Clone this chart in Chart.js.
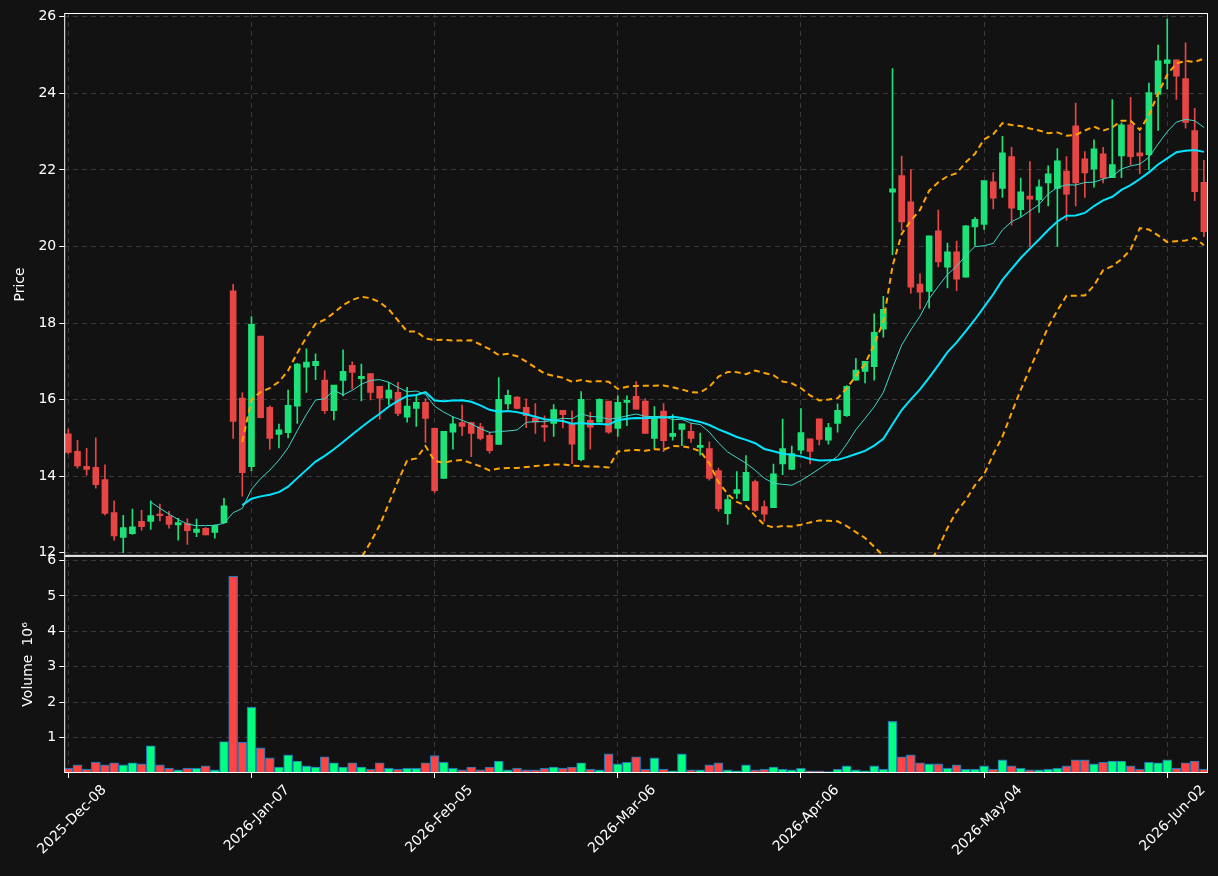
<!DOCTYPE html>
<html>
<head>
<meta charset="utf-8">
<script src="https://cdn.jsdelivr.net/npm/chart.js@4.4.1/dist/chart.umd.min.js"></script>
<style>
  body { margin: 0; background: #121212; }
  canvas { display: block; }
</style>
</head>
<body>
<canvas id="grafico" width="1218" height="876"></canvas>
<script>
// ----------- DADOS -----------
const openP = [15.10,14.64,14.25,14.22,13.90,13.04,12.40,12.50,12.81,12.82,13.00,12.94,12.73,12.75,12.53,12.63,12.53,12.79,18.83,16.03,
  14.25,17.65,15.79,15.09,15.14,15.83,16.85,16.89,16.50,15.71,16.50,16.89,16.55,16.67,16.34,16.04,16.18,15.54,15.77,15.92,
  15.24,13.94,15.15,15.39,15.39,15.28,15.06,14.83,15.89,16.06,15.79,15.51,15.32,15.38,15.71,15.36,14.43,15.45,15.41,15.95,
  15.25,15.93,16.08,15.95,14.99,15.69,15.04,15.22,15.16,14.75,14.71,14.14,13.02,13.55,13.36,13.85,13.20,13.18,14.32,14.18,
  14.68,14.97,15.49,14.94,15.38,15.58,16.51,16.74,16.86,17.84,21.42,21.84,21.16,19.01,18.83,20.40,19.46,19.85,19.20,20.51,
  20.58,21.68,21.52,22.34,20.96,21.31,21.22,21.66,21.52,21.96,23.14,22.28,22.02,22.41,21.80,22.37,23.17,22.44,22.40,23.97,
  24.78,24.87,24.38,23.02,21.67];
const highP = [15.23,14.94,14.73,15.00,14.30,13.36,12.98,13.14,13.11,13.36,13.27,13.08,12.90,12.89,12.88,12.66,12.73,13.42,19.01,16.18,
  18.17,17.65,15.84,15.36,16.25,16.95,17.33,17.20,16.76,16.37,17.30,16.99,16.93,16.67,16.34,16.45,16.45,16.32,16.10,16.02,
  15.24,15.16,15.55,15.86,15.41,15.38,15.15,16.58,16.25,16.08,16.02,15.90,15.58,15.87,15.71,15.71,16.21,15.67,16.02,15.95,
  16.10,16.10,16.47,16.02,15.82,15.90,15.61,15.36,15.38,15.13,14.90,14.21,13.50,14.12,14.54,13.90,13.36,14.32,15.49,14.79,
  15.77,14.97,15.49,15.38,15.89,16.37,17.08,16.99,18.24,18.70,24.65,22.36,22.01,19.29,20.27,20.95,20.09,20.14,20.55,20.76,
  21.71,21.93,22.88,22.59,21.79,22.22,21.74,22.11,22.56,22.35,23.75,22.48,22.79,22.59,23.84,23.23,23.90,22.96,24.27,25.26,
  25.95,24.87,25.32,23.61,22.25];
const lowP = [14.58,14.21,14.03,13.69,12.99,12.33,12.00,12.48,12.59,12.61,12.83,12.64,12.33,12.22,12.42,12.47,12.38,12.77,14.99,13.48,
  14.14,15.52,14.70,14.74,15.00,15.38,16.19,16.52,15.64,15.47,16.10,16.28,15.97,15.99,15.49,15.86,15.58,15.41,15.30,14.88,
  13.57,13.94,14.71,15.06,14.51,14.95,14.60,14.83,15.75,15.76,15.27,15.12,14.91,15.04,15.26,14.33,14.40,14.71,15.41,15.12,
  15.04,15.32,15.75,15.12,14.71,14.64,14.94,14.80,14.88,14.55,13.90,13.09,12.74,13.42,13.36,13.08,12.82,13.18,14.04,14.18,
  14.59,14.32,14.82,14.84,15.15,15.56,16.51,16.44,16.51,17.63,19.79,20.42,18.78,18.37,18.39,19.47,18.92,18.85,19.20,20.03,
  20.45,20.98,21.28,20.56,20.78,20.00,20.89,21.06,20.00,20.68,21.06,21.28,21.55,21.66,21.80,21.80,22.13,21.90,22.00,23.03,
  24.12,23.84,23.09,21.20,20.26];
const closeP = [14.62,14.27,14.18,13.78,13.03,12.44,12.65,12.67,12.68,12.96,12.97,12.74,12.78,12.58,12.61,12.47,12.71,13.22,15.43,14.09,
  17.96,15.53,14.99,15.20,15.84,16.92,16.97,16.99,15.71,16.37,16.73,16.71,16.60,16.19,16.04,16.24,15.64,15.82,15.92,15.51,
  13.62,15.16,15.36,15.30,15.12,14.99,14.67,16.00,16.10,15.77,15.58,15.41,15.28,15.73,15.61,14.84,16.00,15.28,16.00,15.15,
  15.92,15.97,15.75,15.12,15.55,14.93,15.11,15.36,14.99,14.80,13.94,13.15,13.38,13.64,14.09,13.11,13.01,14.05,14.71,14.58,
  15.13,14.65,14.96,15.26,15.71,16.34,16.76,16.99,17.75,18.35,21.50,20.64,18.94,18.81,20.27,19.60,19.85,19.15,20.53,20.70,
  21.71,21.26,22.44,21.00,21.42,21.24,21.55,21.89,22.23,21.37,21.66,21.92,22.54,21.79,22.13,23.17,22.35,22.37,24.01,24.84,
  24.87,24.45,23.24,21.43,20.39];
// volume em milhões
const volume = [0.14,0.23,0.11,0.31,0.23,0.29,0.23,0.29,0.26,0.77,0.23,0.14,0.09,0.14,0.14,0.20,0.09,0.89,5.56,0.87,
  1.86,0.71,0.43,0.17,0.51,0.34,0.20,0.17,0.46,0.29,0.17,0.29,0.17,0.11,0.29,0.14,0.11,0.14,0.14,0.29,
  0.49,0.31,0.14,0.09,0.17,0.09,0.17,0.34,0.09,0.14,0.09,0.09,0.14,0.17,0.14,0.17,0.29,0.11,0.09,0.54,
  0.26,0.31,0.46,0.11,0.43,0.11,0.06,0.54,0.09,0.09,0.23,0.29,0.09,0.06,0.23,0.09,0.11,0.17,0.11,0.09,
  0.14,0.06,0.06,0.04,0.11,0.20,0.09,0.06,0.20,0.11,1.46,0.46,0.51,0.29,0.26,0.26,0.14,0.23,0.11,0.11,
  0.20,0.11,0.37,0.20,0.14,0.09,0.09,0.11,0.14,0.20,0.37,0.37,0.26,0.31,0.34,0.34,0.20,0.11,0.31,0.29,
  0.37,0.14,0.29,0.34,0.11];
const feriados = ["2025-12-25","2026-01-01","2026-01-19","2026-02-16","2026-04-03","2026-05-25"];
const tickIdx = [0, 20, 40, 60, 80, 100, 120];

// ----------- DATAS (dias úteis) -----------
const meses = ["Jan","Feb","Mar","Apr","May","Jun","Jul","Aug","Sep","Oct","Nov","Dec"];
const datas = [];
let d = new Date(Date.UTC(2025, 11, 8));
while (datas.length < openP.length) {
  const iso = d.toISOString().slice(0, 10);
  const wd = d.getUTCDay();
  if (wd !== 0 && wd !== 6 && !feriados.includes(iso)) {
    datas.push(d.getUTCFullYear() + "-" + meses[d.getUTCMonth()] + "-" + String(d.getUTCDate()).padStart(2, "0"));
  }
  d = new Date(d.getTime() + 86400000);
}

// ----------- INDICADORES -----------
function media(n) {
  return closeP.map((_, i) => {
    if (i < n - 1) return null;
    let s = 0;
    for (let k = i - n + 1; k <= i; k++) s += closeP[k];
    return s / n;
  });
}
const sma10 = media(10);
const sma20 = media(20);
const desvio = closeP.map((_, i) => {
  if (i < 19) return null;
  let s = 0;
  for (let k = i - 19; k <= i; k++) s += (closeP[k] - sma20[i]) ** 2;
  return Math.sqrt(s / 20);
});
const bbUp = sma20.map((m, i) => m === null ? null : m + 2 * desvio[i]);
const bbLo = sma20.map((m, i) => m === null ? null : m - 2 * desvio[i]);

const up = closeP.map((c, i) => c >= openP[i]);
const corVela = up.map(u => u ? "#1de27a" : "#e84545");
const corVol = up.map(u => u ? "#00ff7f" : "#ff4444");
const pts = arr => arr.map((v, i) => ({ x: i, y: v }));

// ----------- GRÁFICO -----------
const moldura = {
  id: "moldura",
  afterDraw(chart) {
    const c = chart.ctx, a = chart.chartArea;
    c.save();
    c.strokeStyle = "#ffffff";
    c.lineWidth = 1;
    [chart.scales.y, chart.scales.yv].forEach(s => {
      c.strokeRect(a.left + 0.5, s.top + 0.5, a.right - a.left - 1, s.bottom - s.top - 1);
    });
    c.restore();
  }
};

const grade = { color: "#3a3a3a", tickColor: "#ffffff", tickLength: 5, offset: false };
const borda = { display: false, dash: [5, 4] };
const fonte = { family: "DejaVu Sans", size: 14 };

new Chart(document.getElementById("grafico"), {
  data: {
    datasets: [
      { type: "bar", yAxisID: "y", data: pts(lowP.map((l, i) => [l, highP[i]])), backgroundColor: corVela, barThickness: 1, grouped: false, order: 3 },
      { type: "bar", yAxisID: "y", data: pts(openP.map((o, i) => [Math.min(o, closeP[i]), Math.max(o, closeP[i]) + 0.01])), backgroundColor: corVela, barThickness: 6, grouped: false, order: 2 },
      { type: "line", yAxisID: "y", data: pts(sma10), borderColor: "#40d8c8", borderWidth: 1, pointRadius: 0, order: 1 },
      { type: "line", yAxisID: "y", data: pts(sma20), borderColor: "#00e5ff", borderWidth: 2, pointRadius: 0, order: 1 },
      { type: "line", yAxisID: "y", data: pts(bbUp), borderColor: "#ffa500", borderWidth: 2, borderDash: [6, 4], pointRadius: 0, order: 1 },
      { type: "line", yAxisID: "y", data: pts(bbLo), borderColor: "#ffa500", borderWidth: 2, borderDash: [6, 4], pointRadius: 0, order: 1 },
      { type: "bar", yAxisID: "yv", data: pts(volume), backgroundColor: corVol, borderColor: "#1f77b4", borderWidth: 1.2, barThickness: 9, grouped: false, order: 4 }
    ]
  },
  options: {
    responsive: false,
    animation: false,
    layout: { padding: { top: 13, right: 10, bottom: 0, left: 0 } },
    plugins: { legend: { display: false }, tooltip: { enabled: false } },
    scales: {
      x: {
        type: "linear", min: -0.45, max: 124.45, offset: false,
        afterBuildTicks: s => { s.ticks = tickIdx.map(v => ({ value: v })); },
        afterFit: s => { s.height = 103; },
        ticks: { color: "#ffffff", font: fonte, maxRotation: 45, minRotation: 45, autoSkip: false, labelOffset: 36, padding: 4, callback: v => datas[v] },
        grid: grade, border: borda
      },
      yv: {
        position: "left", stack: "p", stackWeight: 1, min: 0, max: 6.13,
        afterBuildTicks: s => { s.ticks = [1, 2, 3, 4, 5, 6].map(v => ({ value: v })); },
        afterFit: s => { s.width = 62; },
        title: { display: true, text: "Volume  10⁶", color: "#ffffff", font: fonte, padding: { top: 18, bottom: 0 } },
        ticks: { color: "#ffffff", font: fonte },
        grid: grade, border: borda
      },
      y: {
        position: "left", stack: "p", stackWeight: 2.5, min: 11.92, max: 26.1,
        afterBuildTicks: s => { s.ticks = [12, 14, 16, 18, 20, 22, 24, 26].map(v => ({ value: v })); },
        afterFit: s => { s.width = 62; },
        title: { display: true, text: "Price", color: "#ffffff", font: fonte, padding: { top: 10, bottom: 0 } },
        ticks: { color: "#ffffff", font: fonte },
        grid: grade, border: borda
      }
    }
  },
  plugins: [moldura]
});
</script>
</body>
</html>
